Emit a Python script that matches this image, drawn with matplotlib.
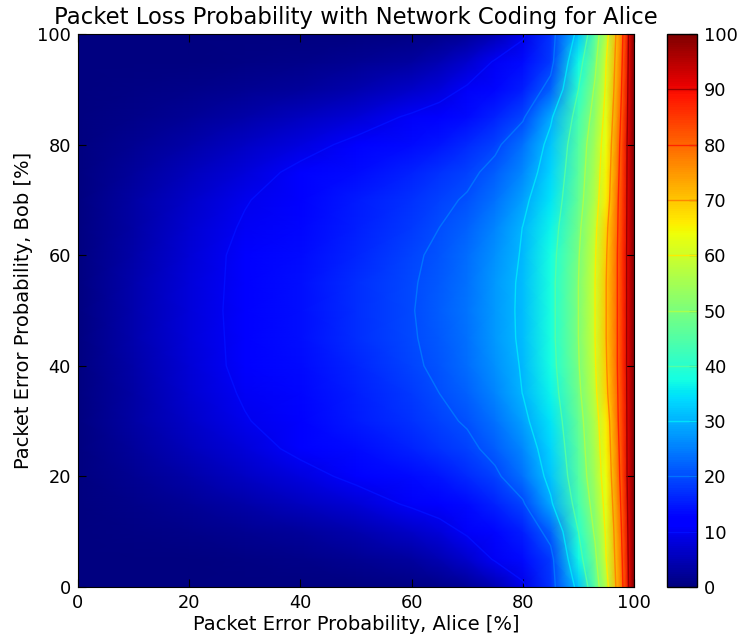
import numpy as np
import matplotlib
matplotlib.use("Agg")
import matplotlib.pyplot as plt

# Packet error probability of Alice (x, %) and Bob (y, %)
alice_err = [0, 10, 20, 30, 40, 50, 60, 65, 70, 75, 80, 85, 90, 93, 95, 97, 98, 99, 100]
bob_err = [0, 5, 10, 15, 20, 25, 30, 35, 40, 45, 50, 55, 60, 65, 70, 75, 80, 85, 90, 95, 100]

# Packet loss probability with network coding for Alice (%), one row per Bob value
loss_b0 = [0, 0, 0, 0, 0, 0.1, 0.5, 1.1, 2.2, 4.5, 9, 17.5, 32, 46, 57, 72, 80, 90, 100]
loss_b5 = [0, 0.1, 0.3, 0.6, 1, 1.7, 3, 4.6, 6.8, 10.4, 13.5, 18, 37, 48.5, 60, 73, 81, 90.5, 100]
loss_b10 = [0, 0.5, 1, 1.7, 2.7, 4, 6.3, 8.2, 10.6, 13, 15.5, 22, 40, 51, 61, 74, 82, 91, 100]
loss_b15 = [0, 1.1, 2.3, 3.8, 5.6, 7.8, 10.6, 12, 13.6, 16, 19.3, 29, 43, 53, 62.5, 75.5, 83, 91.5, 100]
loss_b20 = [0, 1.8, 3.8, 6, 8.5, 11, 13.5, 14.8, 16.5, 19, 23.5, 32, 45, 55, 64, 77, 84, 92, 100]
loss_b25 = [0, 2.6, 5.3, 8.2, 11, 13.4, 16, 17.2, 18.8, 21.5, 26, 33.5, 46, 56, 65, 78, 84.5, 92, 100]
loss_b30 = [0, 3.2, 6.5, 9.7, 12.3, 15, 17.5, 18.9, 20.5, 23.8, 28.5, 35, 47, 57, 66, 79, 85, 92, 100]
loss_b35 = [0, 3.5, 7.1, 10.5, 13, 15.6, 18.3, 20, 22, 25.6, 30.1, 36.5, 48.5, 58.5, 68.5, 79.5, 85.5, 92, 100]
loss_b40 = [0, 3.8, 7.8, 11.1, 13.6, 16.2, 19.2, 21, 23.2, 26.7, 30.5, 37.5, 49.5, 59.5, 69.5, 80, 86, 92, 100]
loss_b45 = [0, 3.95, 7.9, 11.2, 13.9, 16.8, 19.6, 21.4, 23.8, 27.4, 30.9, 38, 50, 60, 70, 80, 86, 92, 100]
loss_b50 = [0, 4, 8, 11.3, 14, 17, 19.8, 21.6, 24, 27.5, 31, 38, 50, 60, 70, 80, 86, 92, 100]
loss_b55 = [0, 3.95, 7.9, 11.2, 13.9, 16.8, 19.6, 21.4, 23.8, 27.4, 30.9, 38, 50, 60, 70, 80, 86, 92, 100]
loss_b60 = [0, 3.8, 7.8, 11.1, 13.6, 16.2, 19.2, 21, 23.2, 26.7, 30.5, 37.5, 49.5, 59.5, 69.5, 80, 86, 92, 100]
loss_b65 = [0, 3.5, 7.1, 10.5, 13, 15.6, 18.3, 20, 22, 25.6, 30.1, 36.5, 48.5, 58.5, 68.5, 79.5, 85.5, 92, 100]
loss_b70 = [0, 3.2, 6.5, 9.7, 12.3, 15, 17.5, 18.9, 20.5, 23.8, 28.5, 35, 47, 57, 66, 79, 85, 92, 100]
loss_b75 = [0, 2.6, 5.3, 8.2, 11, 13.4, 16, 17.2, 18.8, 21.5, 26, 33.5, 46, 56, 65, 78, 84.5, 92, 100]
loss_b80 = [0, 1.8, 3.8, 6, 8.5, 11, 13.5, 14.8, 16.5, 19, 23.5, 32, 45, 55, 64, 77, 84, 92, 100]
loss_b85 = [0, 1.1, 2.3, 3.8, 5.6, 7.8, 10.6, 12, 13.6, 16, 19.3, 29, 43, 53, 62.5, 75.5, 83, 91.5, 100]
loss_b90 = [0, 0.5, 1, 1.7, 2.7, 4, 6.3, 8.2, 10.6, 13, 15.5, 22, 40, 51, 61, 74, 82, 91, 100]
loss_b95 = [0, 0.1, 0.3, 0.6, 1, 1.7, 3, 4.6, 6.8, 10.4, 13.5, 18, 37, 48.5, 60, 73, 81, 90.5, 100]
loss_b100 = [0, 0, 0, 0, 0, 0.1, 0.5, 1.1, 2.2, 4.5, 9, 17.5, 32, 46, 57, 72, 80, 90, 100]

contour_levels = [10, 20, 30, 40, 50, 60, 70, 80, 90]
ticks_main = [0, 20, 40, 60, 80, 100]
ticks_cbar = [0, 10, 20, 30, 40, 50, 60, 70, 80, 90, 100]

plt.rcParams['font.family'] = ['DejaVu Sans']
plt.rcParams['font.size'] = 12.8

Z = np.array([loss_b0, loss_b5, loss_b10, loss_b15, loss_b20, loss_b25, loss_b30,
              loss_b35, loss_b40, loss_b45, loss_b50, loss_b55, loss_b60, loss_b65,
              loss_b70, loss_b75, loss_b80, loss_b85, loss_b90, loss_b95, loss_b100])
X, Y = np.meshgrid(alice_err, bob_err)

fig = plt.figure(figsize=(7.4, 6.41), dpi=100)
ax = fig.add_axes([0.1054, 0.0842, 0.7514, 0.8628])
cax = fig.add_axes([0.9014, 0.0842, 0.0405, 0.8628])

cmap = plt.get_cmap('jet')
mesh = ax.pcolormesh(X, Y, Z, shading='gouraud', cmap=cmap, vmin=0, vmax=100)
line_colors = [cmap((l + 3) / 95.0) for l in contour_levels]
cs = ax.contour(X, Y, Z, levels=contour_levels, colors=line_colors, linewidths=1.0)

ax.set_xlim(0, 100)
ax.set_ylim(0, 100)
ax.set_xticks(ticks_main)
ax.set_yticks(ticks_main)
ax.tick_params(direction='in', top=True, right=True, length=6, width=0.8, pad=5)
ax.set_xlabel('Packet Error Probability, Alice [%]', fontsize=14, labelpad=2)
ax.set_ylabel('Packet Error Probability, Bob [%]', fontsize=14, labelpad=3)
ax.set_title('Packet Loss Probability with Network Coding for Alice', fontsize=16.4, pad=7)

cb = fig.colorbar(mesh, cax=cax, ticks=ticks_cbar)
cb.add_lines(cs)
cb.ax.tick_params(direction='in', length=6, width=0.8, pad=5)
cb.outline.set_linewidth(1.0)

fig.savefig('out.png', dpi=100)
